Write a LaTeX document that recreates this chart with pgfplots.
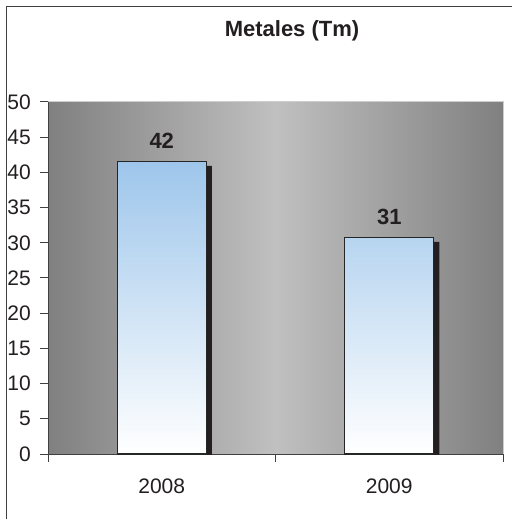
\documentclass[border=0pt]{standalone}
\usepackage{fontspec}
\setmainfont{Liberation Sans}
\usepackage{pgfplots}
\pgfplotsset{compat=1.18}
\definecolor{bgdark}{RGB}{128,128,128}
\definecolor{bglight}{RGB}{192,192,192}
\definecolor{bgedge}{RGB}{205,205,205}
\definecolor{barblue}{RGB}{158,198,235}
\definecolor{shadowc}{RGB}{35,31,32}
\definecolor{txt}{RGB}{35,31,32}
\begin{document}
\begin{tikzpicture}
\path[use as bounding box] (0,0) rectangle (511pt,519pt);
\fill[white] (0,0) rectangle (511pt,519pt);
\draw[black!75, line width=1.3pt] (6.5pt,-2pt) -- (6.5pt,512.5pt) -- (515pt,512.5pt);
\node[font=\fontsize{22}{26}\bfseries, text=txt] at (292pt,488pt) {Metales (Tm)};
\begin{axis}[
  at={(48pt,65pt)}, anchor=south west,
  scale only axis, width=455pt, height=352pt,
  xmin=-0.5, xmax=1.5, ymin=0, ymax=50,
  ytick={0,5,...,50},
  xtick={-0.5,0.5,1.5}, xticklabels={{},{},{}},
  extra x ticks={0,1}, extra x tick labels={2008,2009},
  extra x tick style={major tick length=0pt, xticklabel style={yshift=-25pt}},
  axis lines*=left,
  axis line style={black!75, line width=1pt},
  tick style={black!75, line width=1pt},
  tick align=outside, major tick length=8pt,
  /pgf/number format/assume math mode=true,
  every tick label/.append style={font=\fontsize{21}{25}\selectfont, text=txt},
  yticklabel style={inner sep=0pt, xshift=-9pt},
  xticklabel style={inner sep=0pt},
  axis background/.style={draw=bgedge, line width=1pt, left color=bgdark, right color=bgdark, middle color=bglight},
  clip=true,
]
\addplot[ybar, bar width=89pt, bar shift=0pt, fill=shadowc, draw=none, xshift=5.5pt, yshift=-4pt]
  coordinates {(0,41.5) (1,30.7)};
\addplot[ybar, bar width=89pt, bar shift=0pt, draw=black!85, line width=1.2pt, top color=barblue, bottom color=white,
  nodes near coords={\pgfmathprintnumber[fixed, precision=0]{\pgfplotspointmeta}},
  nodes near coords style={anchor=south, inner sep=0pt, yshift=12.5pt, font=\fontsize{22}{26}\bfseries, text=txt}]
  coordinates {(0,41.5) (1,30.7)};
\end{axis}
\end{tikzpicture}
\end{document}
